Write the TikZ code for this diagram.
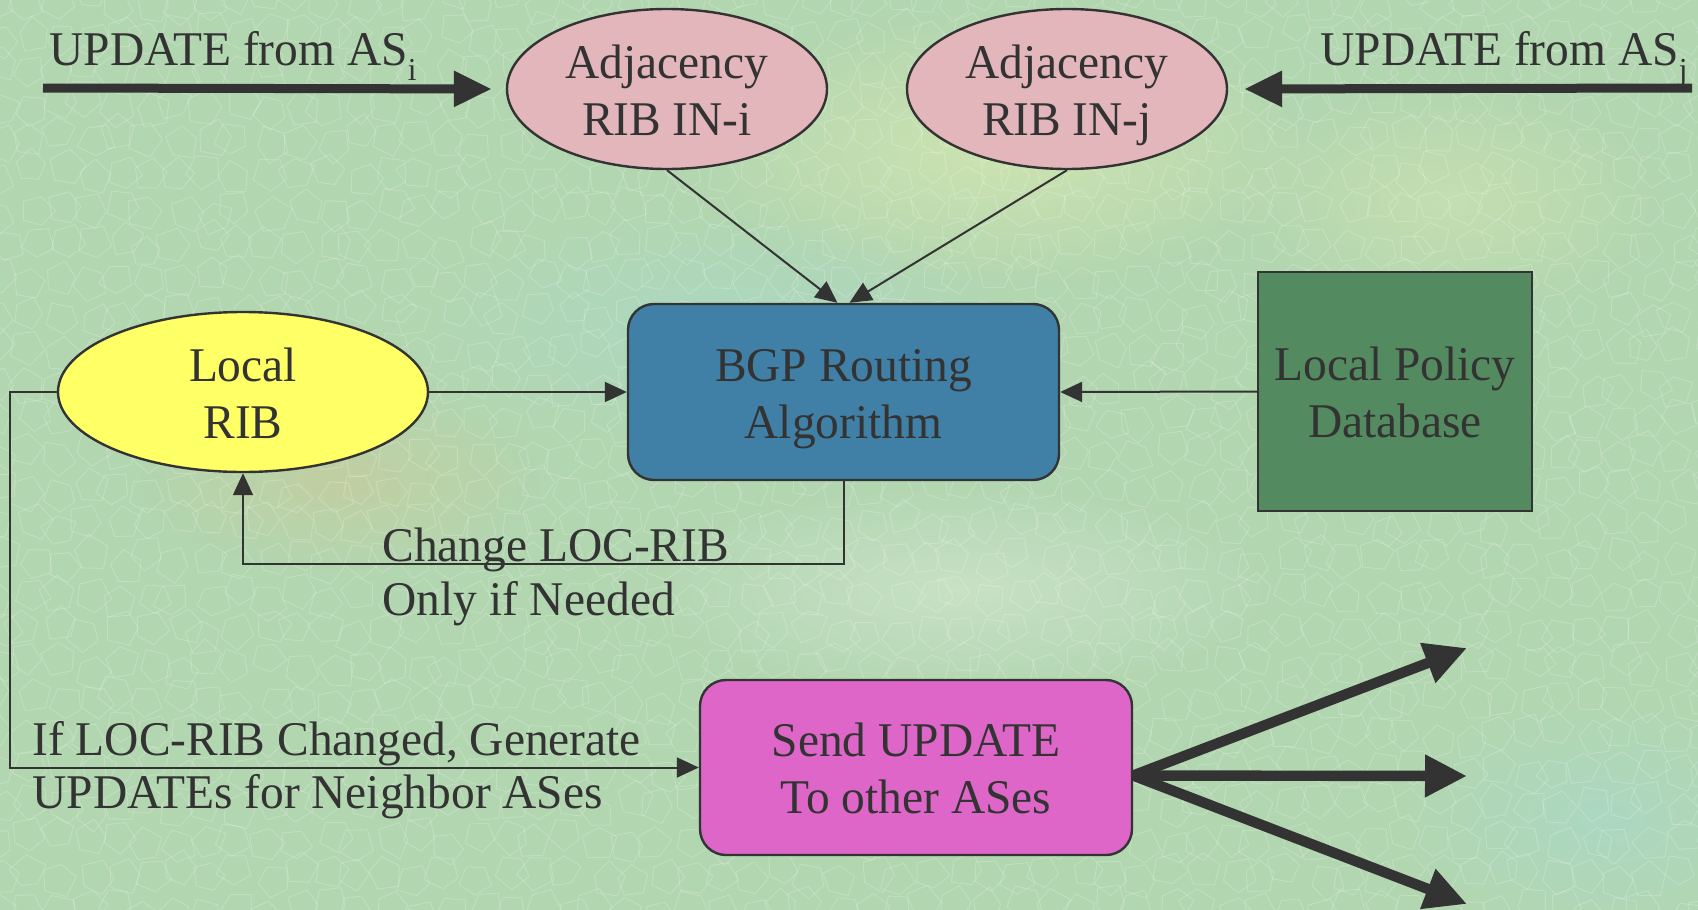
\documentclass[tikz,border=0pt]{standalone}
\usepackage{fontspec}
\setmainfont{Liberation Serif}[FakeStretch=0.98]
\usetikzlibrary{arrows.meta,shapes.geometric,fadings}

\definecolor{ink}{HTML}{333333}
\definecolor{bgbase}{RGB}{178,214,176}
\definecolor{adjfill}{RGB}{226,182,186}
\definecolor{ribfill}{RGB}{255,255,102}
\definecolor{bgpfill}{RGB}{64,128,166}
\definecolor{polfill}{RGB}{84,138,96}
\definecolor{sendfill}{RGB}{221,102,200}

\tikzfading[name=softspot, inner color=transparent!20, outer color=transparent!100]

% subscript set low, as in AS_i
\newcommand{\lowsub}[1]{\raisebox{-0.32em}{\fontsize{16}{16}\selectfont #1}}
% two centred lines in a box of fixed height and depth, so every shape centres them alike
\newcommand{\nodelines}[2]{\raisebox{0pt}[20pt][31pt]{\begin{tabular}[t]{@{}c@{}}#1\\#2\end{tabular}}}

\begin{document}
\begin{tikzpicture}[x=0.5pt,y=-0.5pt,
  every node/.style={text=ink, font=\fontsize{24.2}{28.5}\selectfont},
  shapebase/.style={draw=ink, line width=1.2pt, inner sep=0pt, align=center},
  adjnode/.style={shapebase, ellipse, fill=adjfill, minimum width=160pt, minimum height=80pt},
  ribnode/.style={shapebase, ellipse, fill=ribfill, minimum width=185pt, minimum height=80pt},
  bgpnode/.style={shapebase, rectangle, rounded corners=13pt, fill=bgpfill, minimum width=215.5pt, minimum height=88pt},
  polnode/.style={shapebase, rectangle, fill=polfill, minimum width=137pt, minimum height=119.5pt},
  sendnode/.style={shapebase, rectangle, rounded corners=13pt, fill=sendfill, minimum width=216pt, minimum height=87.5pt},
  textlabel/.style={inner sep=0pt, anchor=base west},
  thinarrow/.style={draw=ink, line width=1pt, -{Triangle[length=11pt,width=10pt]}},
  heavyarrow/.style={draw=ink, line width=4.5pt, -{Triangle[length=19pt,width=17pt]}},
  fanarrow/.style={draw=ink, line width=5.2pt, -{Triangle[length=21pt,width=20pt]}},
  cellline/.style={draw=white, opacity=0.2, line width=0.5pt, line join=round}
]
% canvas
\useasboundingbox (0,0) rectangle (1698,910);
\fill[bgbase] (0,0) rectangle (1698,910);
% soft tints in the backdrop
\fill[white!70!yellow, path fading=softspot, opacity=0.45] (1000,150) ellipse (320 and 140);
\fill[white!60!cyan, path fading=softspot, opacity=0.30] (720,330) ellipse (300 and 120);
\fill[orange!60!white, path fading=softspot, opacity=0.25] (340,480) ellipse (200 and 90);
\fill[white, path fading=softspot, opacity=0.35] (960,590) ellipse (330 and 110);
\fill[white!60!cyan, path fading=softspot, opacity=0.30] (1600,820) ellipse (200 and 120);
\fill[white!70!yellow, path fading=softspot, opacity=0.30] (1450,200) ellipse (220 and 120);
% cracked-paper texture: a jittered net of small irregular cells
\pgfmathsetseed{41}
\foreach \i in {0,...,57}{
  \foreach \j in {0,...,26}{
    \pgfmathsetmacro{\cx}{\i*30+rand*8}
    \pgfmathsetmacro{\cy}{\j*35+rand*8}
    \pgfmathsetmacro{\t}{rand*30}
    \pgfmathsetmacro{\ra}{14+rnd*6}
    \pgfmathsetmacro{\rb}{14+rnd*6}
    \pgfmathsetmacro{\rc}{14+rnd*6}
    \pgfmathsetmacro{\rd}{14+rnd*6}
    \pgfmathsetmacro{\re}{14+rnd*6}
    \draw[cellline, shift={(\cx,\cy)}]
      (\t:\ra) -- (\t+72:\rb) -- (\t+144:\rc) -- (\t+216:\rd) -- (\t+288:\re) -- cycle;
  }
}

% nodes
\node[adjnode] (adji) at (667,89) {\nodelines{Adjacency}{RIB IN-i}};
\node[adjnode] (adjj) at (1067,89) {\nodelines{Adjacency}{RIB IN-j}};
\node[ribnode] (lrib) at (243,392) {\nodelines{Local}{RIB}};
\node[bgpnode] (bgp) at (843.5,392) {\nodelines{BGP Routing}{Algorithm}};
\node[polnode] (pol) at (1395,391.5) {\nodelines{Local Policy}{Database}};
\node[sendnode] (send) at (916,767.5) {\nodelines{Send UPDATE}{To other ASes}};

% incoming updates
\coordinate (ini) at (43,88);
\coordinate (inj) at (1692,88);
\node[textlabel] (lbli) at (49,65) {UPDATE from AS\lowsub{i}};
\node[inner sep=0pt, anchor=base east] (lblj) at (1688,65) {UPDATE from AS\lowsub{j}};
\draw[heavyarrow, shorten >=7pt] (ini) -- (adji.west);
\draw[heavyarrow, shorten >=8pt] (inj) -- (adjj.east);

% into the routing algorithm
\draw[thinarrow] (adji.south) -- ([xshift=-3pt]bgp.north);
\draw[thinarrow] (adjj.south) -- ([xshift=3pt]bgp.north);
\draw[thinarrow] (lrib.east) -- (bgp.west);
\draw[thinarrow] (pol.west) -- (bgp.east);

% feedback to the local RIB
\draw[thinarrow] (bgp.south) -- ++(0,83) -| (lrib.south);
\node[textlabel] (chg1) at (382,561) {Change LOC-RIB};
\node[textlabel] (chg2) at (382,615) {Only if Needed};

% generate updates
\draw[thinarrow] (lrib.west) -- ++(-47,0) |- (send.west);
\node[textlabel] (gen1) at (32,755) {If LOC-RIB Changed, Generate};
\node[textlabel] (gen2) at (32,808) {UPDATEs for Neighbor ASes};

% outgoing updates
\coordinate (fan) at ([yshift=-4pt]send.east);
\coordinate (out1) at (1467,648);
\coordinate (out2) at (1467,776);
\coordinate (out3) at (1467,904);
\draw[fanarrow] (fan) -- (out1);
\draw[fanarrow] (fan) -- (out2);
\draw[fanarrow] (fan) -- (out3);
\end{tikzpicture}
\end{document}
